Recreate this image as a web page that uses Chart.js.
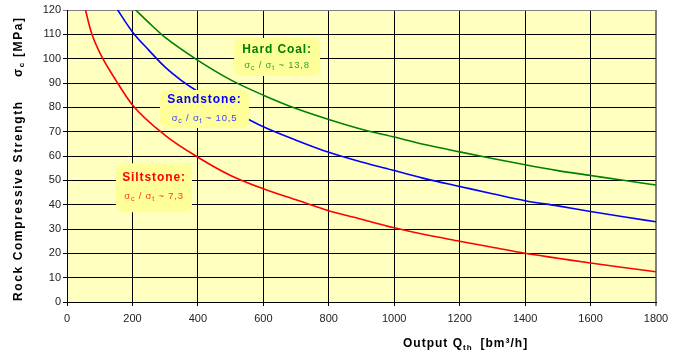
<!DOCTYPE html>
<html>
<head>
<meta charset="utf-8">
<script src="https://cdn.jsdelivr.net/npm/chart.js@4.4.1/dist/chart.umd.min.js"></script>
<style>
  html, body { margin: 0; padding: 0; background: #fff; }
  #wrap { width: 681px; height: 356px; }
</style>
</head>
<body>
<div id="wrap"><canvas id="chart" width="681" height="356"></canvas></div>
<script>
// values (output in bm3/h, strength in MPa)
const siltX = [50, 75, 100, 150, 200, 300, 400, 500, 600, 700, 800, 900, 1000, 1100, 1200, 1300, 1400, 1500, 1600, 1700, 1800];
const siltY = [123.5, 110.5, 102.5, 91, 81, 68.5, 59.5, 52, 46.5, 42, 37.5, 34, 30.5, 27.5, 25, 22.5, 20, 18, 16, 14.2, 12.4];

const sandX = [150, 200, 250, 300, 350, 400, 500, 600, 700, 800, 900, 1000, 1100, 1200, 1300, 1400, 1500, 1600, 1700, 1800];
const sandY = [121, 111, 103.5, 96.5, 91, 86.5, 79, 72, 66.5, 61.5, 57.5, 54, 50.5, 47.5, 44.5, 41.6, 39.5, 37.2, 35, 33];

const coalX = [200, 250, 300, 400, 500, 600, 700, 800, 900, 1000, 1100, 1200, 1300, 1400, 1500, 1600, 1700, 1800];
const coalY = [121.3, 114.8, 108.7, 99.3, 91.3, 85, 79.5, 75, 71, 67.8, 64.5, 61.7, 59, 56.4, 54, 52, 50, 48.1];

// labels inside the plot, anchored in data units
const labelNames = ['Hard Coal:', 'Sandstone:', 'Siltstone:'];
const labelRatios = ['13,8', '10,5', '7,3'];
const labelAtX = [642, 420, 266];
const labelAtY = [100.7, 79.3, 47];

const xMin = 0, xMax = 1800, xStep = 200;
const yMin = 0, yMax = 120, yStep = 10;

const FONT = '"Liberation Sans", Arial, sans-serif';
const colors = ['#008000', '#0000ff', '#ff0000'];
const subColors = ['#33a033', '#4040ff', '#ff3a1a'];
const boxSizes = [[86, 38], [89, 38], [76, 49]];
const textDy = [[-4, 11], [-6, 12], [-6.5, 11.5]];

const toPts = (xs, ys) => xs.map((x, i) => ({ x: x, y: ys[i] }));

// text made of runs like [['σ', false], ['c', true]], true = subscript
function runsWidth(ctx, runs, size, subSize, weight) {
  let w = 0;
  runs.forEach(r => {
    ctx.font = `${weight} ${r[1] ? subSize : size}px ${FONT}`;
    w += ctx.measureText(r[0]).width;
  });
  return w;
}
function drawRuns(ctx, runs, x, y, size, subSize, weight, subDrop) {
  runs.forEach(r => {
    ctx.font = `${weight} ${r[1] ? subSize : size}px ${FONT}`;
    ctx.fillText(r[0], x, r[1] ? y + subDrop : y);
    x += ctx.measureText(r[0]).width;
  });
  return x;
}

const paperPlugin = {
  id: 'paper',
  beforeDraw(chart) {
    const { ctx, chartArea: a } = chart;
    ctx.save();
    ctx.fillStyle = '#ffffc0';
    ctx.fillRect(a.left, a.top, a.right - a.left, a.bottom - a.top);
    ctx.restore();
  },
  afterDatasetsDraw(chart) {
    const { ctx, scales } = chart;
    ctx.save();
    labelNames.forEach((name, i) => {
      const cx = scales.x.getPixelForValue(labelAtX[i]);
      const cy = scales.y.getPixelForValue(labelAtY[i]);
      const [w, h] = boxSizes[i];
      ctx.fillStyle = '#ffff99';
      ctx.beginPath();
      ctx.roundRect(cx - w / 2, cy - h / 2, w, h, 7);
      ctx.fill();

      ctx.textAlign = 'left';
      ctx.textBaseline = 'alphabetic';
      ctx.fillStyle = colors[i];
      ctx.letterSpacing = '0.9px';
      ctx.font = `bold 12px ${FONT}`;
      const tw = ctx.measureText(name).width;
      ctx.fillText(name, cx - tw / 2, cy + textDy[i][0]);

      const runs = [['σ', false], ['c', true], [' / σ', false], ['t', true], [' ~ ' + labelRatios[i], false]];
      ctx.fillStyle = subColors[i];
      ctx.letterSpacing = '0.8px';
      const sw = runsWidth(ctx, runs, 9.5, 7, 'normal');
      drawRuns(ctx, runs, cx - sw / 2, cy + textDy[i][1], 9.5, 7, 'normal', 2);
    });
    ctx.restore();
  },
  afterDraw(chart) {
    const { ctx } = chart;
    ctx.save();
    ctx.fillStyle = '#000';
    ctx.textAlign = 'left';
    ctx.textBaseline = 'alphabetic';

    // y axis title, rotated
    ctx.translate(22, 302);
    ctx.rotate(-Math.PI / 2);
    ctx.letterSpacing = '1.6px';
    ctx.font = `bold 12px ${FONT}`;
    ctx.fillText('Rock Compressive Strength', 1, 0);
    drawRuns(ctx, [['σ', false], ['c', true]], 225, 0, 12, 8, 'bold', 2);
    ctx.font = `bold 12px ${FONT}`;
    ctx.fillText('[MPa]', 245, 0);
    ctx.setTransform(1, 0, 0, 1, 0, 0);

    // x axis title
    ctx.letterSpacing = '1px';
    const end = drawRuns(ctx, [['Output Q', false], ['th', true]], 403, 347, 12, 8, 'bold', 3);
    ctx.font = `bold 12px ${FONT}`;
    ctx.fillText('[bm³/h]', end + 8, 347);
    ctx.restore();
  }
};

const lineSet = (label, xs, ys, color) => ({
  label: label,
  data: toPts(xs, ys),
  borderColor: color,
  backgroundColor: color,
  borderWidth: 1.6,
  pointRadius: 0,
  cubicInterpolationMode: 'monotone',
  fill: false
});

new Chart(document.getElementById('chart'), {
  type: 'line',
  data: {
    datasets: [
      lineSet('Hard Coal', coalX, coalY, colors[0]),
      lineSet('Sandstone', sandX, sandY, colors[1]),
      lineSet('Siltstone', siltX, siltY, colors[2])
    ]
  },
  options: {
    responsive: false,
    animation: false,
    devicePixelRatio: 1,
    layout: { padding: { top: 10, right: 25, left: 0, bottom: 0 } },
    plugins: { legend: { display: false }, tooltip: { enabled: false } },
    scales: {
      x: {
        type: 'linear',
        min: xMin, max: xMax,
        afterFit: s => { s.height = 54; },
        ticks: { stepSize: xStep, padding: 6, color: '#222', font: { family: FONT, size: 11 }, callback: v => String(v) },
        grid: {
          color: c => (c.tick && c.tick.value === xMax ? '#808080' : '#000'),
          lineWidth: c => (c.tick && c.tick.value === xMax ? 2 : 1),
          tickLength: 4
        },
        border: { color: '#000', width: 1 }
      },
      y: {
        min: yMin, max: yMax,
        afterFit: s => { s.width = 67; },
        ticks: { stepSize: yStep, padding: 2, color: '#222', font: { family: FONT, size: 11 } },
        grid: {
          color: c => (c.tick && c.tick.value === yMax ? '#808080' : '#000'),
          tickLength: 4
        },
        border: { color: '#000', width: 1 }
      }
    }
  },
  plugins: [paperPlugin]
});
</script>
</body>
</html>
